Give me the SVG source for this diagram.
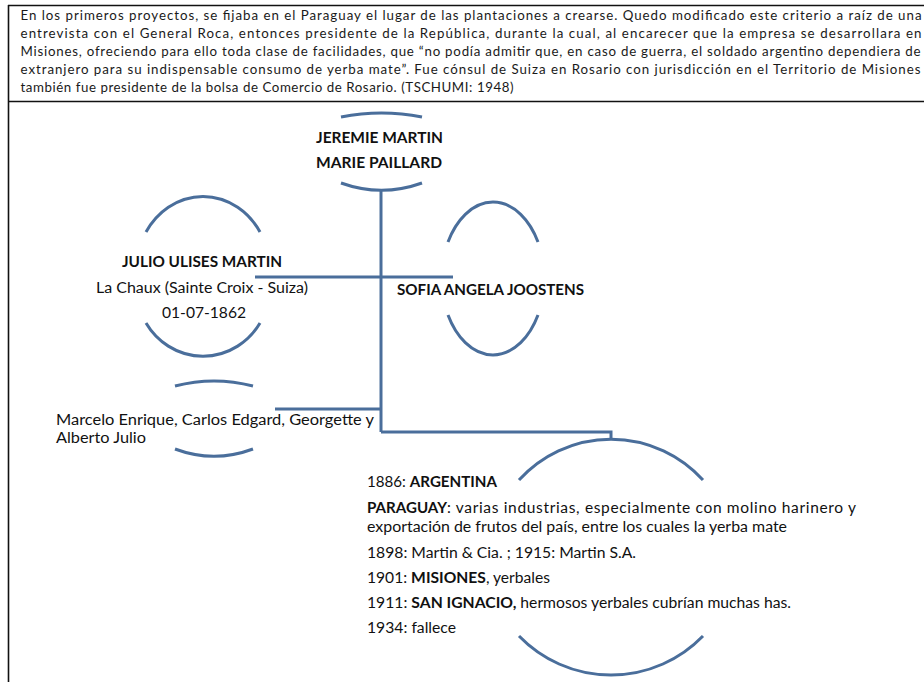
<svg xmlns="http://www.w3.org/2000/svg" width="924" height="682" viewBox="0 0 924 682">
<style>
.para{font-family:Lato,"Open Sans","Liberation Sans",sans-serif;font-size:13.3px;fill:#1a1a1a}
.t{font-family:Lato,"Open Sans","Liberation Sans",sans-serif;font-size:15.5px;fill:#111}
.b{font-weight:bold}
.arc{fill:none;stroke:#4a6e9b;stroke-width:3}
.con{fill:none;stroke:#4a6e9b;stroke-width:3}
.frame{stroke:#111;stroke-width:1.6;fill:none}
</style>
<rect width="924" height="682" fill="#fff"/>
<g id="frame">
<line class="frame" x1="8" y1="5.5" x2="924" y2="5.5"/>
<line class="frame" x1="8.5" y1="5" x2="8.5" y2="682"/>
<line class="frame" x1="8" y1="101.5" x2="924" y2="101.5"/>
</g>
<g id="paragraph">
<text class="para" x="20.5" y="20" textLength="901" lengthAdjust="spacing">En los primeros proyectos, se fijaba en el Paraguay el lugar de las plantaciones a crearse. Quedo modificado este criterio  a raíz  de una</text>
<text class="para" x="20.5" y="38" textLength="901" lengthAdjust="spacing">entrevista con el General Roca, entonces presidente de la República, durante la cual, al encarecer que la empresa se desarrollara en</text>
<text class="para" x="20.5" y="56" textLength="900" lengthAdjust="spacing">Misiones, ofreciendo para ello toda clase de facilidades, que “no podía admitir que, en caso de guerra, el soldado argentino dependiera de</text>
<text class="para" x="20.5" y="74" textLength="900" lengthAdjust="spacing">extranjero para su indispensable consumo de yerba mate”. Fue cónsul de Suiza en Rosario con jurisdicción en el Territorio de Misiones</text>
<text class="para" x="20.5" y="92" textLength="493" lengthAdjust="spacing">también fue presidente de la bolsa de Comercio de Rosario. (TSCHUMI: 1948)</text>
</g>
<g id="connectors">
<line class="con" x1="381" y1="190" x2="381" y2="432"/>
<line class="con" x1="255" y1="277" x2="453" y2="277"/>
<line class="con" x1="275" y1="409" x2="381" y2="409"/>
<polyline class="con" points="381,432 611,432 611,440"/>
</g>
<g id="parents">
<path class="arc" d="M341,117 A207,207 0 0 1 422,117"/>
<path class="arc" d="M341,183 A120,120 0 0 0 422,183"/>
<text class="t b" x="316" y="143" textLength="127" lengthAdjust="spacingAndGlyphs">JEREMIE MARTIN</text>
<text class="t b" x="316" y="168" textLength="126" lengthAdjust="spacingAndGlyphs">MARIE PAILLARD</text>
</g>
<g id="julio">
<path class="arc" d="M146,232 A67,75 0 0 1 260,232"/>
<path class="arc" d="M146,323 A67,70 0 0 0 260,323"/>
<text class="t b" x="122" y="267" textLength="160" lengthAdjust="spacingAndGlyphs">JULIO ULISES MARTIN</text>
<text class="t" x="96" y="293" textLength="212" lengthAdjust="spacingAndGlyphs">La Chaux (Sainte Croix - Suiza)</text>
<text class="t" x="162" y="318" textLength="84" lengthAdjust="spacingAndGlyphs">01-07-1862</text>
</g>
<g id="sofia">
<path class="arc" d="M448,242 A52,80 0 0 1 538,242"/>
<path class="arc" d="M448,315 A52,80 0 0 0 538,315"/>
<text class="t b" x="397" y="295" textLength="187" lengthAdjust="spacingAndGlyphs">SOFIA ANGELA JOOSTENS</text>
</g>
<g id="children">
<path class="arc" d="M175,386 A155,155 0 0 1 253,386"/>
<path class="arc" d="M175,449 A112,112 0 0 0 253,449"/>
<text class="t" x="56" y="425" textLength="318" lengthAdjust="spacingAndGlyphs">Marcelo Enrique, Carlos Edgard, Georgette y</text>
<text class="t" x="56" y="443" textLength="90" lengthAdjust="spacingAndGlyphs">Alberto Julio</text>
</g>
<g id="timeline">
<path class="arc" d="M519,480 A124,124 0 0 1 703,480"/>
<path class="arc" d="M519,636 A128,128 0 0 0 703,636"/>
<text class="t" x="367" y="487" textLength="130" lengthAdjust="spacingAndGlyphs">1886: <tspan class="b">ARGENTINA</tspan></text>
<text class="t b" x="367" y="513" textLength="80" lengthAdjust="spacingAndGlyphs">PARAGUAY</text>
<text class="t" x="447" y="513" textLength="409" lengthAdjust="spacing">: varias industrias, especialmente con molino harinero y</text>
<text class="t" x="367" y="532" textLength="420" lengthAdjust="spacingAndGlyphs">exportación de frutos del país, entre los cuales la yerba mate</text>
<text class="t" x="367" y="558" textLength="269" lengthAdjust="spacingAndGlyphs">1898: Martin &amp; Cia. ; 1915: Martin S.A.</text>
<text class="t" x="367" y="583" textLength="183" lengthAdjust="spacingAndGlyphs">1901: <tspan class="b">MISIONES</tspan>, yerbales</text>
<text class="t" x="367" y="608" textLength="424" lengthAdjust="spacingAndGlyphs">1911: <tspan class="b">SAN IGNACIO,</tspan> hermosos yerbales cubrían muchas has.</text>
<text class="t" x="367" y="633" textLength="89" lengthAdjust="spacingAndGlyphs">1934: fallece</text>
</g>
</svg>
